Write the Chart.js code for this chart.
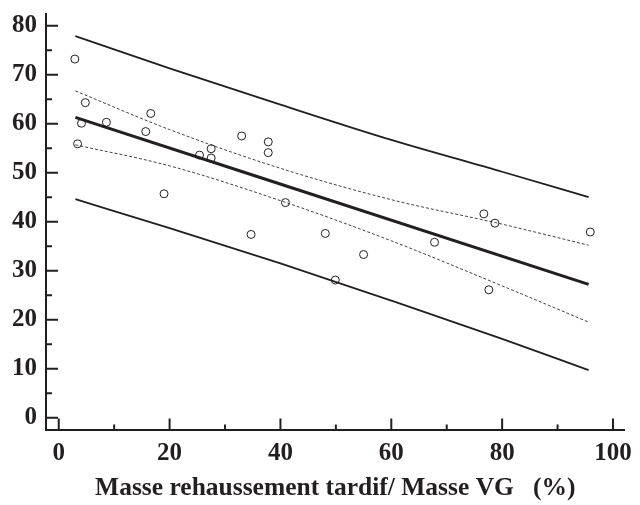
<!DOCTYPE html>
<html>
<head>
<meta charset="utf-8">
<script src="https://cdn.jsdelivr.net/npm/chart.js@4/dist/chart.umd.min.js"></script>
<style>
  html, body { margin: 0; padding: 0; background: #fff; }
  #wrap { width: 640px; height: 505px; }
</style>
</head>
<body>
<div id="wrap"><canvas id="chart" width="640" height="505"></canvas></div>
<script>
// patients (masse rehaussement tardif / masse VG, y value)
const pointX = [2.9, 4.8, 4.1, 3.4, 8.6, 16.6, 15.7, 19.0, 25.4, 27.5, 27.5, 33.0,
                37.8, 37.8, 40.9, 34.7, 48.1, 55.0, 49.9, 67.8, 76.7, 78.7, 77.6, 95.9];
const pointY = [73.2, 64.3, 60.1, 55.9, 60.3, 62.1, 58.4, 45.7, 53.6, 54.9, 53.0, 57.5,
                56.3, 54.1, 43.9, 37.4, 37.6, 33.3, 28.1, 35.8, 41.6, 39.7, 26.1, 37.9];

// regression line
const regX = [3, 95.6];
const regY = [61.3, 27.2];

// confidence / prediction bands read at these x positions
const bandX = [3, 20, 40, 60, 80, 95.6];
const upperPI = [77.9, 71.3, 63.9, 56.7, 50.2, 45.0];
const lowerPI = [44.6, 38.7, 31.5, 23.9, 16.1, 9.7];
const upperCI = [66.7, 58.8, 50.9, 44.5, 39.5, 35.2];
const lowerCI = [55.7, 51.4, 44.3, 36.1, 26.9, 19.5];

// axis ticks
const xTicks = [0, 20, 40, 60, 80, 100];
const xMinorTicks = [10, 30, 50, 70, 90];
const yTicks = [0, 10, 20, 30, 40, 50, 60, 70, 80];
const yMinorTicks = [5, 15, 25, 35, 45, 55, 65, 75];

const ink = '#231f20';
const serif = "'Liberation Serif', 'DejaVu Serif', serif";

function xy(xs, ys) {
  return xs.map((x, i) => ({ x: x, y: ys[i] }));
}

function lineSet(xs, ys, width, dash, color) {
  return {
    type: 'line',
    data: xy(xs, ys),
    borderColor: color,
    borderWidth: width,
    borderDash: dash,
    pointRadius: 0,
    fill: false,
    cubicInterpolationMode: 'monotone'
  };
}

// ticks inside the plot, long for labelled values, short between them
const innerTicks = {
  id: 'innerTicks',
  afterDraw(chart) {
    const ctx = chart.ctx;
    const xs = chart.scales.x, ys = chart.scales.y;
    const area = chart.chartArea;
    ctx.save();
    ctx.strokeStyle = ink;
    ctx.lineWidth = 2;
    ctx.beginPath();
    xTicks.forEach(v => { const p = xs.getPixelForValue(v); ctx.moveTo(p, area.bottom); ctx.lineTo(p, area.bottom - 12); });
    xMinorTicks.forEach(v => { const p = xs.getPixelForValue(v); ctx.moveTo(p, area.bottom); ctx.lineTo(p, area.bottom - 6); });
    yTicks.forEach(v => { const p = ys.getPixelForValue(v); ctx.moveTo(area.left, p); ctx.lineTo(area.left + 12, p); });
    yMinorTicks.forEach(v => { const p = ys.getPixelForValue(v); ctx.moveTo(area.left, p); ctx.lineTo(area.left + 6, p); });
    ctx.stroke();
    ctx.restore();
  }
};

const ctx = document.getElementById('chart').getContext('2d');
new Chart(ctx, {
  type: 'scatter',
  data: {
    datasets: [
      {
        data: xy(pointX, pointY),
        pointStyle: 'circle',
        pointRadius: 4,
        borderWidth: 1,
        borderColor: ink,
        backgroundColor: 'rgba(255,255,255,0)'
      },
      lineSet(regX, regY, 3, [], ink),
      lineSet(bandX, upperPI, 1.8, [], ink),
      lineSet(bandX, lowerPI, 1.8, [], ink),
      lineSet(bandX, upperCI, 1, [3, 2], '#444'),
      lineSet(bandX, lowerCI, 1, [3, 2], '#444')
    ]
  },
  options: {
    responsive: false,
    animation: false,
    layout: { padding: { left: 3, right: 13, top: 10, bottom: 1 } },
    plugins: { legend: { display: false }, tooltip: { enabled: false } },
    scales: {
      x: {
        type: 'linear',
        min: -2.3,
        max: 102.1,
        afterBuildTicks: s => { s.ticks = xTicks.map(v => ({ value: v })); },
        grid: { display: false, drawTicks: false },
        border: { display: true, width: 2, color: ink },
        ticks: { color: ink, padding: 8, font: { family: serif, size: 25, weight: 'bold' } },
        title: {
          display: true,
          text: 'Masse rehaussement tardif/ Masse VG   (%)',
          color: ink,
          padding: { top: -3, bottom: 0 },
          font: { family: serif, size: 25.5, weight: 'bold' }
        }
      },
      y: {
        type: 'linear',
        min: -2.6,
        max: 82.4,
        afterBuildTicks: s => { s.ticks = yTicks.map(v => ({ value: v })); },
        grid: { display: false, drawTicks: false },
        border: { display: true, width: 2, color: ink },
        ticks: { color: ink, padding: 9, font: { family: serif, size: 25, weight: 'bold', lineHeight: 0.4 } }
      }
    }
  },
  plugins: [innerTicks]
});
</script>
</body>
</html>
